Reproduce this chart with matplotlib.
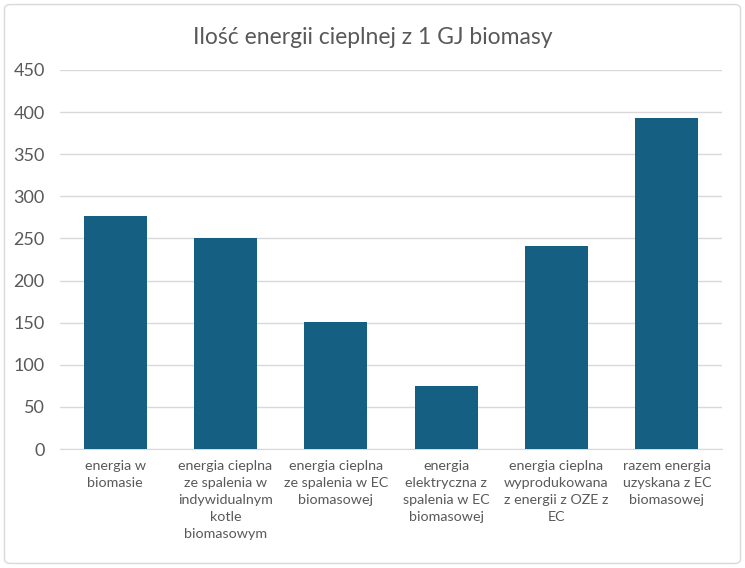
import matplotlib
matplotlib.use("Agg")
import matplotlib.pyplot as plt
from matplotlib.patches import FancyBboxPatch

categories = [
    "energia w\nbiomasie",
    "energia cieplna\nze spalenia w\nindywidualnym\nkotle\nbiomasowym",
    "energia cieplna\nze spalenia w EC\nbiomasowej",
    "energia\nelektryczna z\nspalenia w EC\nbiomasowej",
    "energia cieplna\nwyprodukowana\nz energii z OZE z\nEC",
    "razem energia\nuzyskana z EC\nbiomasowej",
]
values = [277, 250, 151, 75, 241, 393]
yticks = [0, 50, 100, 150, 200, 250, 300, 350, 400, 450]

plt.rcParams['font.family'] = ['Lato', 'DejaVu Sans']
text_color = '#595959'

fig = plt.figure(figsize=(7.45, 5.68), dpi=100)
border = FancyBboxPatch((0.006, 0.008), 0.988, 0.984, boxstyle="round,pad=0,rounding_size=0.008",
                        transform=fig.transFigure, facecolor='none', edgecolor='#d9d9d9', lw=1,
                        zorder=-10)
fig.patches.append(border)

ax = fig.add_axes([60 / 745, 1 - 449 / 568, (722 - 60) / 745, (449 - 70) / 568])
ax.set_zorder(2)
x = range(len(values))
ax.bar(x, values, width=0.57, color='#156082', zorder=3)
ax.set_xlim(-0.5, len(values) - 0.5)
ax.set_ylim(0, 450)
ax.set_yticks(yticks)
ax.set_yticklabels([str(v) for v in yticks], fontsize=13, color=text_color)
ax.set_xticks(list(x))
ax.set_xticklabels(categories, fontsize=10.3, color=text_color, linespacing=1.5, va='top')
ax.tick_params(axis='both', length=0)
ax.tick_params(axis='x', pad=8)
ax.tick_params(axis='y', pad=11)
ax.grid(axis='y', color='#d9d9d9', lw=1, zorder=0)
for s in ['top', 'right', 'left']:
    ax.spines[s].set_visible(False)
ax.spines['bottom'].set_color('#d9d9d9')
ax.set_facecolor('none')

fig.text(0.5, 1 - 37 / 568, "Ilość energii cieplnej z 1 GJ biomasy", ha='center', va='center',
         fontsize=16.5, color=text_color)

fig.savefig("out.png", dpi=100)
